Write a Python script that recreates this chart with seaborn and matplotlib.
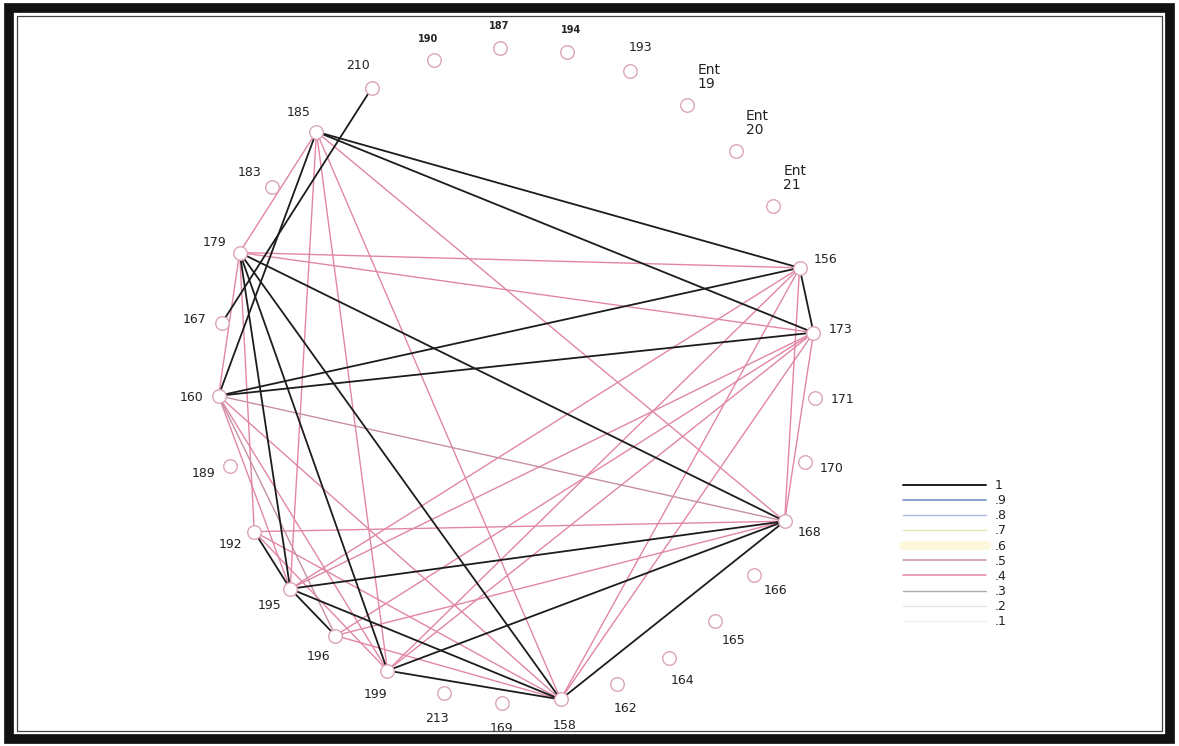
import numpy as np
import pandas as pd
import matplotlib
matplotlib.use("Agg")
import matplotlib.pyplot as plt
from matplotlib.lines import Line2D
from matplotlib.patches import Rectangle
import seaborn as sns

# Nodes in clockwise order around the ring, starting at the top
nodes = ["187", "194", "193", "Ent\n19", "Ent\n20", "Ent\n21", "156", "173",
         "171", "170", "168", "166", "165", "164", "162", "158", "169", "213",
         "199", "196", "195", "192", "189", "160", "167", "179", "183", "185",
         "210", "190"]

# Ties between nodes and their strength
edge_src = ["185", "185", "185", "210", "160", "160", "156", "179", "179", "179",
            "179", "192", "195", "195", "195", "199", "199", "158",
            "185", "185", "185", "185", "185", "179", "179", "179", "179",
            "160", "160", "160", "160", "192", "196", "156", "173", "156",
            "156", "156", "173", "173", "173", "173", "192", "192", "196", "160"]
edge_dst = ["156", "173", "160", "167", "156", "173", "173", "168", "158", "199",
            "195", "195", "196", "158", "168", "158", "168", "168",
            "179", "195", "199", "158", "168", "156", "173", "160", "192",
            "168", "158", "199", "195", "168", "168", "168", "168", "195",
            "199", "158", "195", "196", "199", "158", "199", "158", "158", "196"]
edge_w = [1.0] * 18 + [0.4, 0.4, 0.4, 0.4, 0.4, 0.4, 0.4, 0.4, 0.4,
                       0.5, 0.4, 0.4, 0.4, 0.4, 0.4, 0.4, 0.4, 0.4,
                       0.4, 0.4, 0.4, 0.4, 0.4, 0.4, 0.4, 0.4, 0.4, 0.5]

# Legend scale of tie strengths
levels = [1.0, 0.9, 0.8, 0.7, 0.6, 0.5, 0.4, 0.3, 0.2, 0.1]
level_labels = ["1", ".9", ".8", ".7", ".6", ".5", ".4", ".3", ".2", ".1"]
level_colors = ["#1c1c1c", "#7590c0", "#a8bce0", "#e2e4b4", "#fbf8dc",
                "#c7909f", "#e286a6", "#b4a8b4", "#e6e6e6", "#f1f1f1"]
level_widths = [1.4, 1.2, 1.0, 1.0, 6.5, 1.1, 1.1, 1.0, 1.0, 1.0]

W, H = 1179, 746
sns.set_theme(style="white")
plt.rcParams["font.family"] = ["DejaVu Sans"]

fig = plt.figure(figsize=(W / 100, H / 100), dpi=100)
ax = fig.add_axes([0, 0, 1, 1])
ax.set_xlim(0, W)
ax.set_ylim(H, 0)
ax.axis("off")

# Ring layout: equal bearings taken from an eye point set off toward the
# lower right, projected onto an ellipse
cx, cy, rx, ry = 517, 375, 299, 328
ecc, eye_dir = 0.085, np.deg2rad(52)
phi = np.deg2rad(264.2) + np.arange(len(nodes)) * 2 * np.pi / len(nodes)
t = phi - np.arcsin(ecc * np.sin(phi - eye_dir))
ang = dict(zip(nodes, t))
pos = {n: (cx + rx * np.cos(a), cy + ry * np.sin(a)) for n, a in ang.items()}

rows = []
for k, (s, d, w) in enumerate(zip(edge_src, edge_dst, edge_w)):
    for n in (s, d):
        x, y = pos[n]
        rows.append({"edge": k, "x": x, "y": y, "w": w})
edges = pd.DataFrame(rows)
palette = dict(zip(levels, level_colors))

# weaker ties first, strong ties drawn on top
for w in sorted(edges["w"].unique()):
    sub = edges[edges["w"] == w]
    sns.lineplot(data=sub, x="x", y="y", units="edge", estimator=None, sort=False,
                 color=palette[w], lw=1.3 if w == 1.0 else 1.0, ax=ax,
                 legend=False, zorder=3 if w == 1.0 else 2)

nd = pd.DataFrame({"node": nodes,
                   "x": [pos[n][0] for n in nodes],
                   "y": [pos[n][1] for n in nodes]})
sns.scatterplot(data=nd, x="x", y="y", s=95, facecolors="white",
                edgecolors="#dba6b2", linewidths=1.0, ax=ax, zorder=4)
ax.set_xlabel("")
ax.set_ylabel("")

# node labels, pushed outward from the ring
for n in nodes:
    a = ang[n]
    x, y = pos[n]
    if n.startswith("Ent"):
        ax.text(x + 10, y - 14, n, ha="left", va="bottom", fontsize=10,
                color="#222222", linespacing=1.0)
        continue
    small = n in ("190", "187", "194")
    d = 22 if small else 26
    tx, ty = x + d * np.cos(a) * 1.05, y + d * np.sin(a)
    ax.text(tx, ty, n, ha="center", va="center",
            fontsize=7 if small else 9, color="#222222",
            fontweight="bold" if small else "normal")

# strength legend
handles = [Line2D([0], [0], color=c, lw=lw) for c, lw in zip(level_colors, level_widths)]
leg = ax.legend(handles, level_labels, loc="upper left",
                bbox_to_anchor=(898 / W, 1 - 474 / H), frameon=False,
                handlelength=6.6, handletextpad=0.7, labelspacing=0.17,
                fontsize=9, borderaxespad=0)
for tx in leg.get_texts():
    tx.set_color("#222222")

# frame around the sheet
fig.patches.append(Rectangle((9.5 / W, 7.5 / H), (W - 19) / W, (H - 15) / H,
                             transform=fig.transFigure, fill=False,
                             edgecolor="#111111", lw=7.0, zorder=10))
fig.patches.append(Rectangle((17 / W, 15.5 / H), (W - 34) / W, (H - 31) / H,
                             transform=fig.transFigure, fill=False,
                             edgecolor="#444444", lw=0.9, zorder=10))

fig.savefig("out.png", dpi=100)
